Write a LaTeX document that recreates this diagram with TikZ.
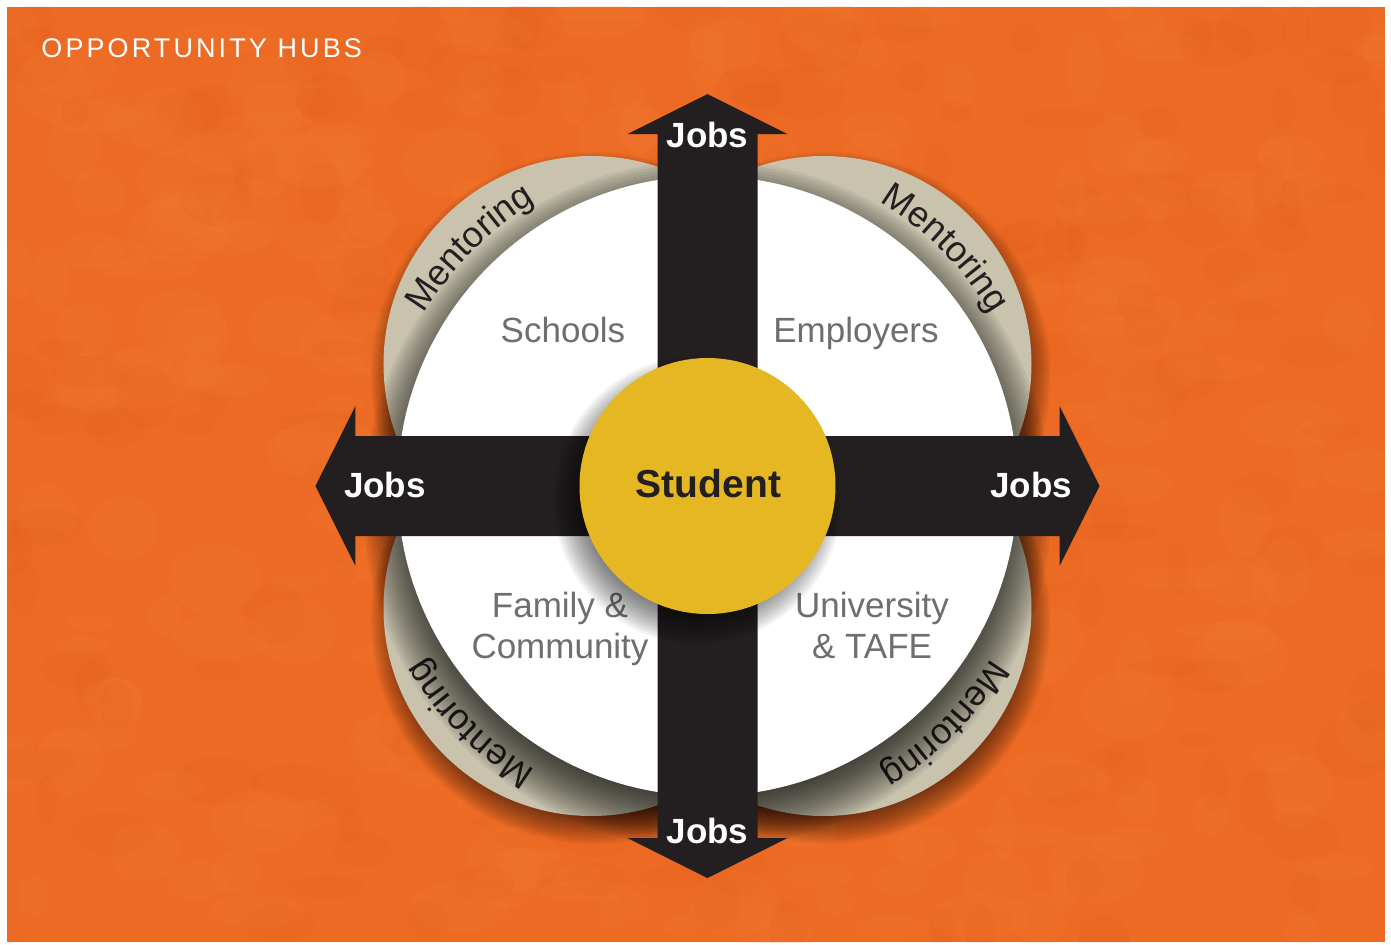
\documentclass[tikz,border=0pt]{standalone}
\usepackage{fontspec}
\setmainfont{Liberation Sans}
\usepackage{tikz}
\usetikzlibrary{decorations.text}
\definecolor{hubOrange}{HTML}{EC6A24}
\definecolor{hubOrangeLight}{HTML}{F68A3C}
\definecolor{hubOrangeDark}{HTML}{D85416}
\definecolor{lobeBeige}{HTML}{C9C3AD}
\definecolor{barBlack}{HTML}{231F20}
\definecolor{studentGold}{HTML}{E5B823}
\definecolor{labelGrey}{HTML}{6D6E71}

% soft round shadow: centre, radius, blur width, opacity of one ring
\newcommand{\softshadow}[4]{%
  \foreach \k in {0,...,19}{\fill[black,opacity=#4] #1 circle ({#2+#3-\k*#3/9.5});}}

\begin{document}
\begin{tikzpicture}[x=0.5pt,y=0.5pt,
  jobs/.style={text=white,font=\fontsize{17.5}{20}\selectfont\bfseries,anchor=base},
  hub/.style={text=labelGrey,font=\fontsize{17.5}{20.5}\selectfont,align=center,anchor=base},
  mentor/.style={decorate,decoration={text along path,text align=center,text color=barBlack,
    text={|\fontsize{18}{20}\selectfont|Mentoring}}}]
\useasboundingbox (-707.5,-458) rectangle (683.5,486);
\fill[hubOrange] (-700.5,-456) rectangle (677.5,479);
% mottled background
\begin{scope}
\clip (-700.5,-456) rectangle (677.5,479);
\pgfmathsetseed{7}
\foreach \i in {1,...,300}{
  \pgfmathsetmacro{\bx}{-700+1378*rnd}
  \pgfmathsetmacro{\by}{-456+935*rnd}
  \pgfmathsetmacro{\bw}{12+40*rnd}
  \pgfmathsetmacro{\bh}{8+28*rnd}
  \fill[hubOrangeLight,opacity=0.1] (\bx,\by) ellipse ({\bw} and {\bh});}
\foreach \i in {1,...,220}{
  \pgfmathsetmacro{\bx}{-700+1378*rnd}
  \pgfmathsetmacro{\by}{-456+935*rnd}
  \pgfmathsetmacro{\bw}{10+35*rnd}
  \pgfmathsetmacro{\bh}{8+25*rnd}
  \fill[hubOrangeDark,opacity=0.08] (\bx,\by) ellipse ({\bw} and {\bh});}
\end{scope}

\node[text=white,anchor=base west,inner sep=0pt,font=\fontsize{13.5}{16}\selectfont\addfontfeatures{LetterSpace=11.5}]
  (title) at (-666.5,429) {OPPORTUNITY HUBS};

% mentoring lobes
\foreach \sx/\sy in {-116/122,116/122,-116/-122,116/-122}
  \softshadow{(\sx+3,\sy-12)}{208}{16}{0.035};
\foreach \sx/\sy in {-116/122,116/122,-116/-122,116/-122}
  \fill[lobeBeige] (\sx,\sy) circle (208);
\foreach \a in {135,45,-45,-135}
  \path[mentor] (\a+30:332) arc[start angle=\a+30,end angle=\a-30,radius=332];

% white hub disc
\softshadow{(0,-18)}{316}{28}{0.055}
\fill[white] (0,0) circle (310);
\node[hub] (schools) at (-144.5,144) {Schools};
\node[hub] (employers) at (148.5,144) {Employers};
\node[hub] (family) at (-147.5,-172) {Family \&\\Community};
\node[hub] (uni) at (164.5,-172) {University\\\& TAFE};

% jobs cross
\fill[barBlack] (-50,352) -- (-80,352) -- (0,392) -- (80,352) -- (50,352) -- (50,50)
  -- (352,50) -- (352,80) -- (392,0) -- (352,-80) -- (352,-50) -- (50,-50)
  -- (50,-352) -- (80,-352) -- (0,-392) -- (-80,-352) -- (-50,-352) -- (-50,-50)
  -- (-352,-50) -- (-352,-80) -- (-392,0) -- (-352,80) -- (-352,50) -- (-50,50) -- cycle;
\node[jobs] (jobsN) at (0,339) {Jobs};
\node[jobs] (jobsS) at (0,-357) {Jobs};
\node[jobs] (jobsW) at (-322.5,-11) {Jobs};
\node[jobs] (jobsE) at (323.5,-11) {Jobs};

% student in the middle
\softshadow{(-10,-14)}{122}{22}{0.045}
\fill[studentGold] (0,0) circle (128);
\node[text=barBlack,anchor=base,font=\fontsize{19.5}{22}\selectfont\bfseries]
  (student) at (1,-11) {Student};
\end{tikzpicture}
\end{document}
